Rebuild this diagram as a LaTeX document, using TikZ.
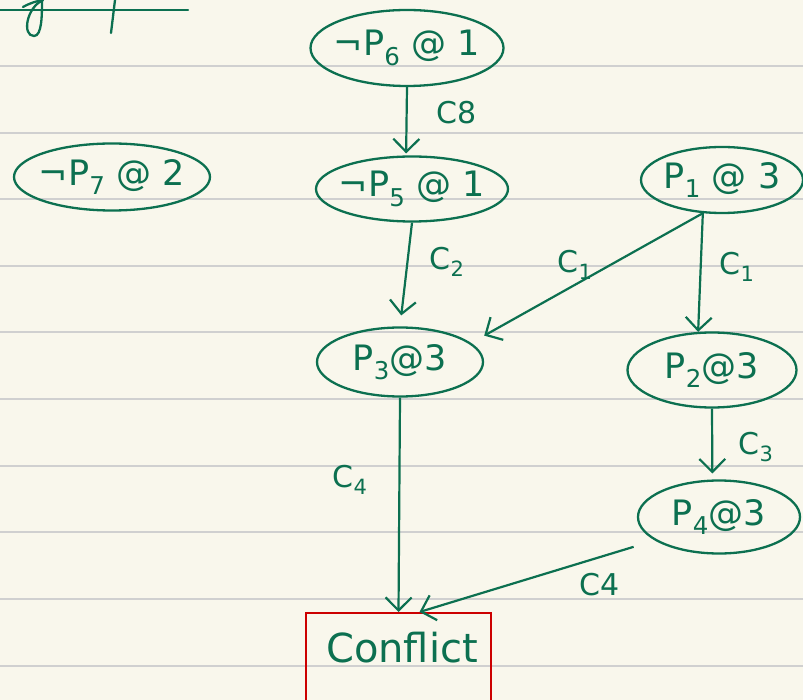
\documentclass[tikz,border=0pt]{standalone}
\usepackage{fontspec}
\setmainfont{DejaVu Sans}
\usetikzlibrary{arrows.meta,shapes.geometric}
\definecolor{ink}{RGB}{12,112,80}
\definecolor{paper}{RGB}{249,247,236}
\definecolor{rulegray}{RGB}{208,208,208}
\definecolor{boxred}{RGB}{204,0,0}
\begin{document}
\begin{tikzpicture}[x=1pt,y=-1pt,
  lit/.style={ellipse, draw=ink, line width=2.3pt, inner sep=-14pt, text=ink, font=\fontsize{35}{35}\selectfont},
  arr/.style={draw=ink, line width=2.2pt, -{Straight Barb[length=13pt,width=26pt]}},
  lab/.style={text=ink, font=\fontsize{30}{30}\selectfont},
  pen/.style={draw=ink, line width=2.3pt, line cap=round}
]
\fill[paper] (0,0) rectangle (803,700);
\useasboundingbox (0,0) rectangle (803,700);
\foreach \y in {66,133,199,266,332,399,466,532,599,666}
  \draw[rulegray, line width=2pt] (0,\y) -- (803,\y);

% fragments at top left
\draw[pen] (0,10) -- (188,10);
\draw[pen] (23,7) .. controls (30,3) and (37,1) .. (43,0);
\draw[pen] (43,0) .. controls (26,8) and (22,36) .. (34,36) .. controls (42,36) and (42,15) .. (42,0);
\draw[pen] (115,0) -- (111,33);

% nodes
\node[lit, minimum width=193, minimum height=76] (p6) at (407,48) {¬P\textsubscript{6} @ 1};
\node[lit, minimum width=196, minimum height=67] (p7) at (112,177) {¬P\textsubscript{7} @ 2};
\node[lit, minimum width=192, minimum height=65] (p5) at (412,189) {¬P\textsubscript{5} @ 1};
\node[lit, minimum width=162, minimum height=66] (p1) at (722,180) {P\textsubscript{1} @ 3};
\node[lit, minimum width=166, minimum height=69] (p3) at (400,362) {P\textsubscript{3}@3};
\node[lit, minimum width=169, minimum height=75] (p2) at (712,370) {P\textsubscript{2}@3};
\node[lit, minimum width=162, minimum height=73] (p4) at (719,517) {P\textsubscript{4}@3};
\node[draw=boxred, line width=2pt, minimum width=185, minimum height=100, inner sep=0pt] (conf) at (398.5,663) {};
\node[text=ink, font=\fontsize{40}{40}\selectfont] (conftxt) at (402,648) {Conflict};

% connectors
\draw[arr, shorten >=2pt] (p6.south) -- (p5.100);
\draw[arr, shorten >=11pt] (p5.south) -- (p3.north);
\draw[arr, shorten >=15pt] (p1.240) -- (p3.15);
\draw[arr] (p1.240) -- (p2.110);
\draw[arr, shorten >=6pt] (p2.south) -- (p4.100);
\draw[arr] (p3.south) -- (conf.north);
\draw[arr, shorten <=22pt] (p4.200) -- ([xshift=21pt]conf.north);

% labels
\node[lab] (l8) at (457,113) {C8};
\node[lab] (l2) at (447,262) {C\textsubscript{2}};
\node[lab] (l1a) at (575,265) {C\textsubscript{1}};
\node[lab] (l1b) at (737,267) {C\textsubscript{1}};
\node[lab] (l3) at (756,447) {C\textsubscript{3}};
\node[lab] (l4a) at (350,480) {C\textsubscript{4}};
\node[lab] (l4b) at (600,585) {C4};
\end{tikzpicture}
\end{document}
